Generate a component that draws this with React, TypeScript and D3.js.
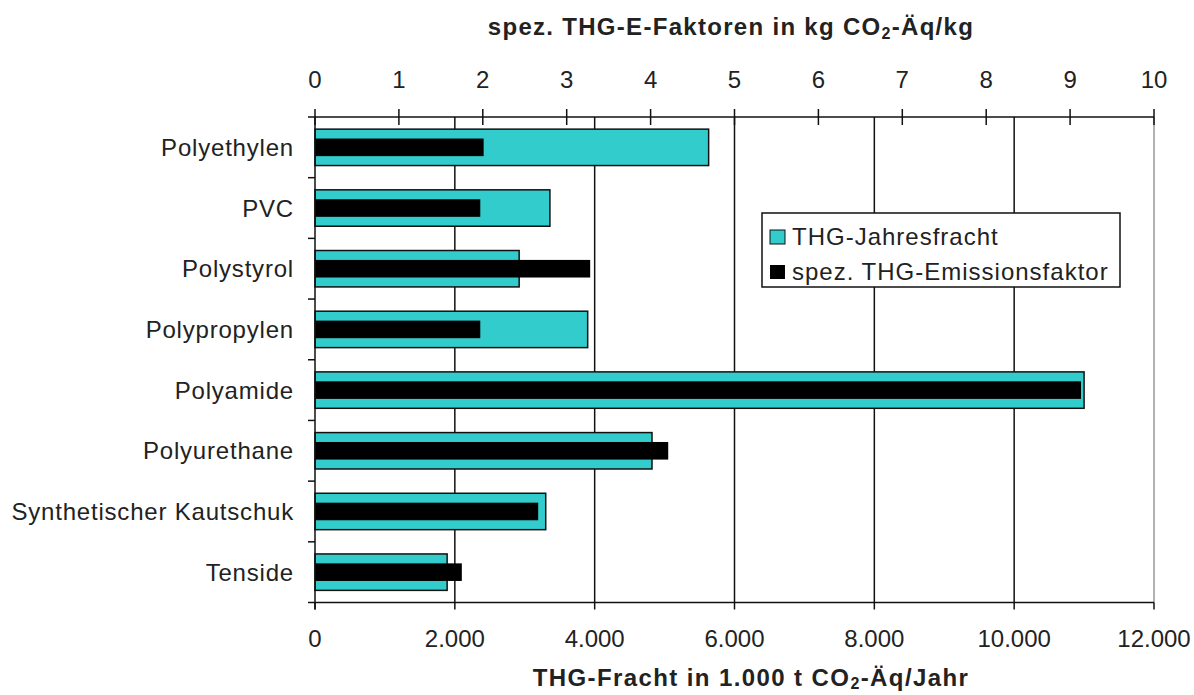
import React from 'react';
import * as d3 from 'd3';

const categories = [
  'Polyethylen',
  'PVC',
  'Polystyrol',
  'Polypropylen',
  'Polyamide',
  'Polyurethane',
  'Synthetischer Kautschuk',
  'Tenside',
];
// THG-Jahresfracht in 1.000 t CO2-Äq/Jahr (bottom axis)
const jahresfracht = [5630, 3360, 2920, 3900, 11000, 4820, 3300, 1890];
// spez. THG-Emissionsfaktor in kg CO2-Äq/kg (top axis)
const emissionsfaktor = [2.01, 1.97, 3.28, 1.97, 9.13, 4.21, 2.66, 1.75];

const bottomTicks = [0, 2000, 4000, 6000, 8000, 10000, 12000];
const topTicks = [0, 1, 2, 3, 4, 5, 6, 7, 8, 9, 10];

const FONT = '"Liberation Sans", Arial, sans-serif';
const CYAN = '#33CCCC';
const TEXT = '#222';

const de = d3.formatLocale({ decimal: ',', thousands: '.', grouping: [3], currency: ['', ' €'] });
const fmt = de.format(',');

const App: React.FC = () => {
  const width = 1194;
  const height = 695;
  const margin = { top: 117, right: 40, bottom: 93, left: 315 };
  const plotRight = 1154;
  const plotBottom = height - margin.bottom + 0.5;

  const x = d3.scaleLinear().domain([0, 12000]).range([margin.left, plotRight]);
  const xTop = d3.scaleLinear().domain([0, 10]).range([margin.left, plotRight]);
  const y = d3.scaleBand().domain(categories).range([margin.top, plotBottom]).padding(0);
  const bw = y.bandwidth();
  const cyanH = bw * 0.6;
  const blackH = bw * 0.29;

  return (
    <svg width={width} height={height} style={{ position: 'absolute', left: 0, top: 0, background: '#fff' }}
      fontFamily={FONT}>
      <rect x={0} y={0} width={width} height={height} fill="#fff" />

      {/* vertical grid lines from bottom axis */}
      {bottomTicks.slice(1).map((t, i) => (
        <line key={'g' + t} x1={x(t)} x2={x(t)} y1={margin.top} y2={plotBottom}
          stroke={i === bottomTicks.length - 2 ? '#999' : '#111'} strokeWidth={1.5} />
      ))}

      {/* bars */}
      {categories.map((c, i) => {
        const cy = y(c)! + bw / 2;
        return (
          <g key={c}>
            <rect x={x(0)} y={cy - cyanH / 2} width={x(jahresfracht[i]) - x(0)} height={cyanH}
              fill={CYAN} stroke="#111" strokeWidth={1.5} />
            <rect x={xTop(0)} y={cy - blackH / 2} width={xTop(emissionsfaktor[i]) - xTop(0)} height={blackH}
              fill="#000" />
          </g>
        );
      })}

      {/* left axis */}
      <line x1={margin.left} x2={margin.left} y1={margin.top} y2={plotBottom + 7} stroke="#111" strokeWidth={1.5} />
      {categories.map(c => (
        <line key={'lt' + c} x1={margin.left - 7} x2={margin.left} y1={y(c)!} y2={y(c)!}
          stroke="#111" strokeWidth={1.5} />
      ))}
      <line x1={margin.left - 7} x2={margin.left} y1={plotBottom} y2={plotBottom} stroke="#111" strokeWidth={1.5} />
      {categories.map(c => (
        <text key={'lab' + c} x={margin.left - 21} y={y(c)! + bw / 2} dy="0.36em" textAnchor="end"
          fontSize={24} fill={TEXT} letterSpacing={0.8}>{c}</text>
      ))}

      {/* top axis */}
      <line x1={margin.left} x2={plotRight} y1={margin.top} y2={margin.top} stroke="#111" strokeWidth={1.5} />
      {topTicks.map(t => (
        <g key={'tt' + t}>
          <line x1={xTop(t)} x2={xTop(t)} y1={margin.top - 8} y2={margin.top + 8} stroke="#111" strokeWidth={1.5} />
          <text x={xTop(t)} y={88} textAnchor="middle" fontSize={24} fill={TEXT}>{t}</text>
        </g>
      ))}
      <text x={731} y={35} textAnchor="middle" fontSize={24} fontWeight="bold" fill={TEXT} letterSpacing={1.3}>
        spez. THG-E-Faktoren in kg CO<tspan fontSize={16} dy={4}>2</tspan><tspan dy={-4}>-Äq/kg</tspan>
      </text>

      {/* bottom axis */}
      <line x1={margin.left} x2={plotRight} y1={plotBottom} y2={plotBottom} stroke="#111" strokeWidth={1.5} />
      {bottomTicks.map(t => (
        <g key={'bt' + t}>
          <line x1={x(t)} x2={x(t)} y1={plotBottom} y2={plotBottom + 7} stroke="#111" strokeWidth={1.5} />
          <text x={x(t)} y={647} textAnchor="middle" fontSize={24} fill={TEXT}>{fmt(t)}</text>
        </g>
      ))}
      <text x={751} y={686} textAnchor="middle" fontSize={24} fontWeight="bold" fill={TEXT} letterSpacing={1.4}>
        THG-Fracht in 1.000 t CO<tspan fontSize={16} dy={3}>2</tspan><tspan dy={-3}>-Äq/Jahr</tspan>
      </text>

      {/* legend */}
      <g>
        <rect x={762} y={213} width={358} height={74} fill="#fff" stroke="#111" strokeWidth={1.5} />
        <rect x={770} y={230} width={15} height={14} fill={CYAN} stroke="#111" strokeWidth={1} />
        <text x={792} y={245} fontSize={24} fill={TEXT} letterSpacing={1}>THG-Jahresfracht</text>
        <rect x={770} y={265} width={15} height={14} fill="#000" />
        <text x={792} y={280} fontSize={24} fill={TEXT} letterSpacing={1}>spez. THG-Emissionsfaktor</text>
      </g>
    </svg>
  );
};

export default App;
